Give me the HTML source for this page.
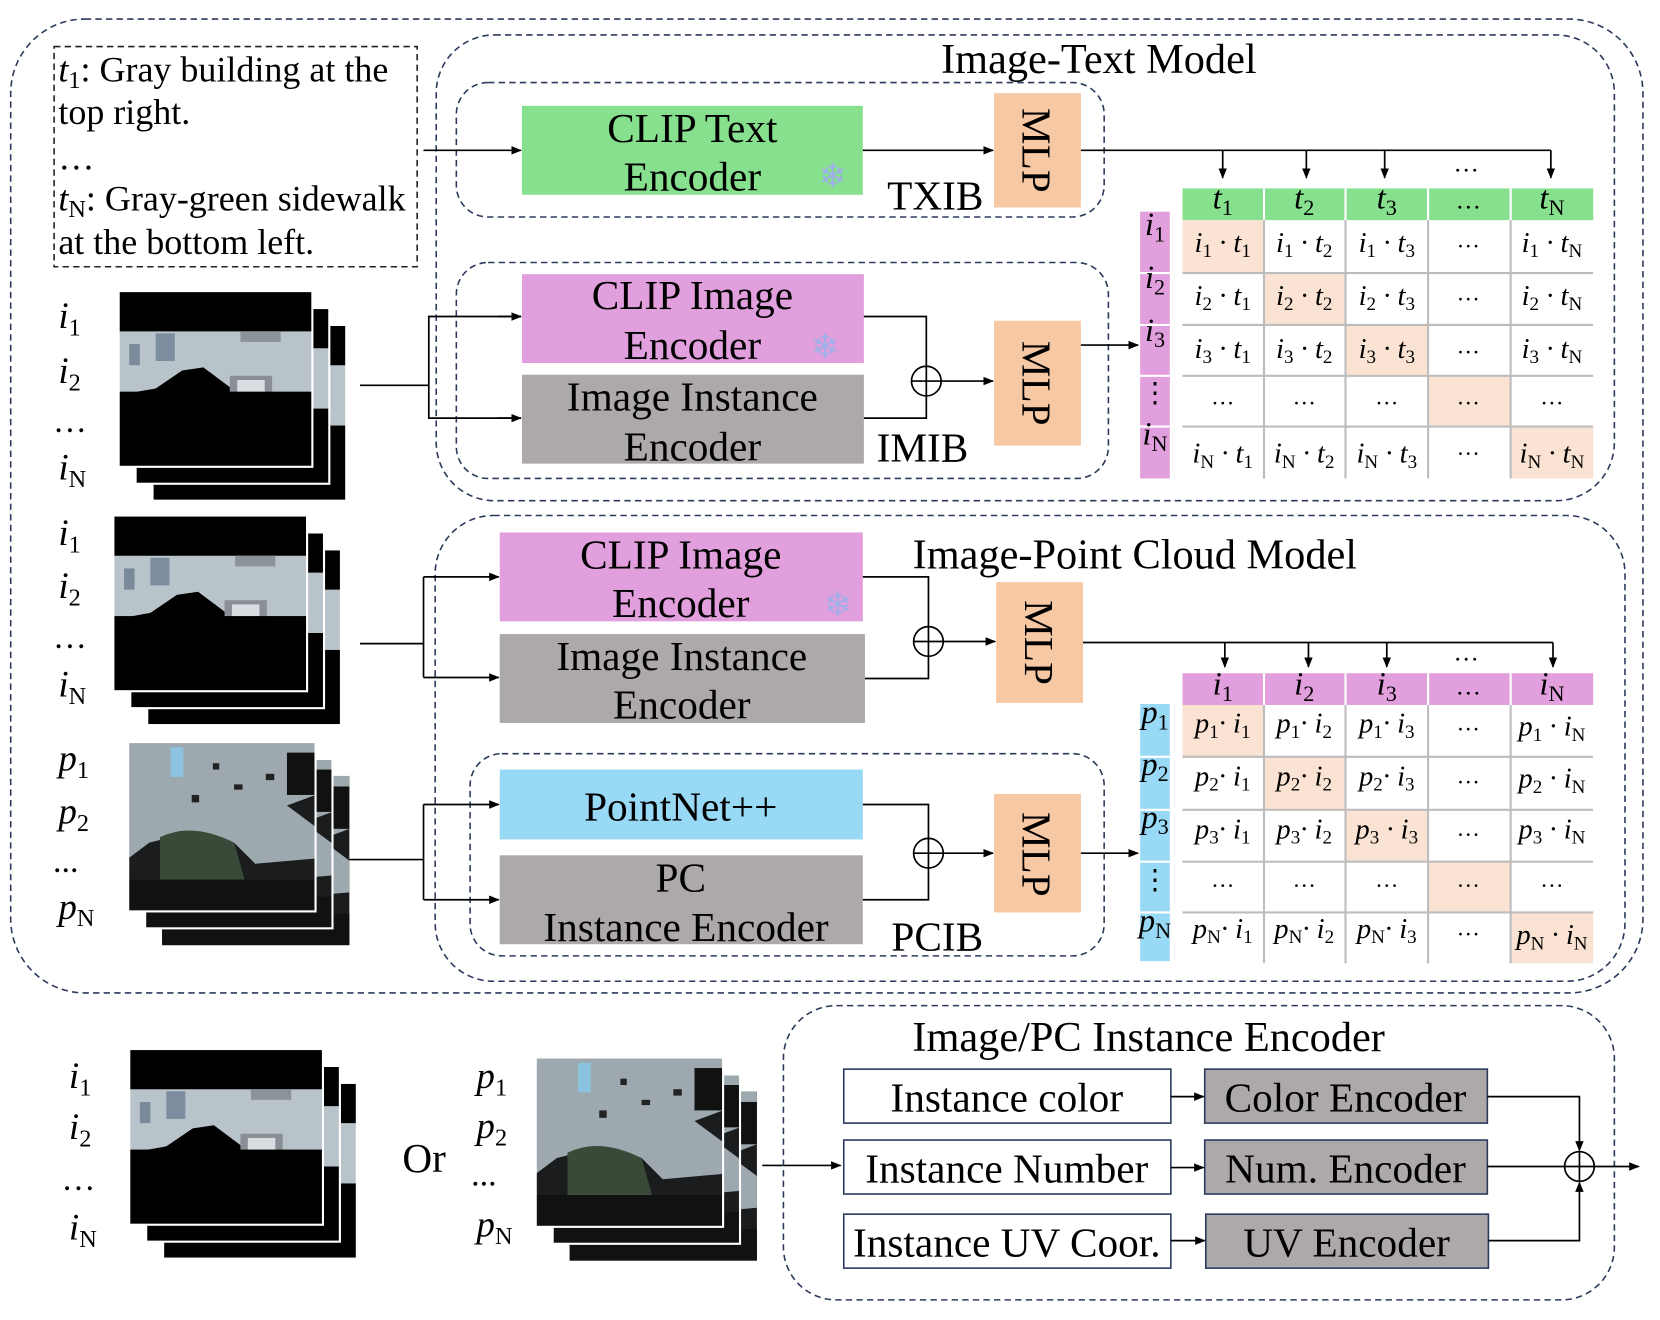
<!DOCTYPE html>
<html><head><meta charset="utf-8">
<style>
html,body{margin:0;padding:0;background:#fff;}
svg{display:block;}
text{font-family:"Liberation Serif",serif;fill:#000;}
.b{font-size:39px;text-anchor:middle;}
.m{font-size:27px;font-style:italic;text-anchor:middle;}
.h{font-size:31px;font-style:italic;text-anchor:middle;}
.lab{font-size:35px;font-style:italic;}
.s{font-size:18px;font-style:normal;}
.sh{font-size:21px;font-style:normal;}
.sl{font-size:23px;font-style:normal;}
.d{fill:none;stroke:#2b3a5c;stroke-width:1.5;stroke-dasharray:6 4;}
.ln{fill:none;stroke:#000;stroke-width:1.6;}
.g{stroke:#bdbdbd;stroke-width:2;}
</style></head><body>
<svg width="1660" height="1320" viewBox="0 0 1568 1247" xmlns="http://www.w3.org/2000/svg">
<defs>
<marker id="a" markerWidth="10" markerHeight="10" refX="9" refY="5" orient="auto" markerUnits="userSpaceOnUse"><path d="M0,1 L10,5 L0,9 z" fill="#000"/></marker>
<symbol id="ph" viewBox="0 0 183 166">
<rect width="183" height="166" fill="#000"/>
<path d="M0,38 L183,38 L183,100 L150,104 L120,102 L80,72 L60,75 L35,92 L18,95 L0,100 z" fill="#b9c3ca"/>
<rect x="105" y="80" width="40" height="25" fill="#8a8f96"/>
<rect x="112" y="84" width="26" height="18" fill="#d8dde2"/>
<rect x="35" y="40" width="18" height="26" fill="#7b8d9e"/>
<rect x="10" y="50" width="10" height="20" fill="#7a8a9a"/>
<rect x="115" y="38" width="38" height="10" fill="#8b9299"/>
<rect x="0" y="95" width="183" height="71" fill="#000"/>
</symbol>
<symbol id="pc" viewBox="0 0 177 160">
<rect width="177" height="160" fill="#1a1c1e"/>
<path d="M0,0 L177,0 L177,50 L150,60 L177,80 L177,110 L120,115 L100,95 L60,85 L20,95 L0,110 z" fill="#9da9ae"/>
<path d="M30,90 Q60,75 100,95 L110,130 L30,130 z" fill="#3a4a38"/>
<rect x="40" y="5" width="12" height="28" fill="#8cc3e0"/>
<rect x="80" y="20" width="6" height="6" fill="#222"/><rect x="100" y="40" width="8" height="5" fill="#222"/><rect x="60" y="50" width="7" height="7" fill="#222"/><rect x="130" y="30" width="8" height="6" fill="#222"/><rect x="150" y="10" width="27" height="40" fill="#111"/>
<rect x="0" y="130" width="177" height="30" fill="#101212"/>
</symbol>
</defs>

<rect class="d" x="10" y="18" width="1542" height="920" rx="70"/>
<rect class="d" x="412" y="33" width="1113" height="440" rx="55"/>
<text x="1038" y="69" style="font-size:40px;text-anchor:middle">Image-Text Model</text>

<rect x="51" y="44" width="343" height="208" fill="none" stroke="#222" stroke-width="1.5" stroke-dasharray="6 4"/>
<text x="55" y="77" style="font-size:34px"><tspan font-style="italic">t</tspan><tspan class="sl" dy="6">1</tspan><tspan dy="-6">: Gray building at the</tspan></text>
<text x="55" y="117" style="font-size:34px">top right.</text>
<text x="55" y="160" style="font-size:34px">…</text>
<text x="55" y="199" style="font-size:34px"><tspan font-style="italic">t</tspan><tspan class="sl" dy="6" font-style="italic">N</tspan><tspan dy="-6">: Gray-green sidewalk</tspan></text>
<text x="55" y="240" style="font-size:34px">at the bottom left.</text>

<rect class="d" x="431" y="78" width="612" height="127" rx="30"/>
<rect x="493" y="100" width="322" height="84" fill="#86e08e"/>
<text class="b" x="654" y="134">CLIP Text</text><text class="b" x="654" y="180">Encoder</text>
<text x="773" y="177" style="font-size:32px;fill:#9fb0e8">❄</text>
<rect x="939" y="88" width="82" height="108" fill="#f7c8a4"/>
<text class="b" transform="translate(966,142) rotate(90)" y="0">MLP</text>
<text x="838" y="198" style="font-size:39px">TXIB</text>
<line class="ln" x1="400" y1="142" x2="492" y2="142" marker-end="url(#a)"/>
<line class="ln" x1="815" y1="142" x2="938" y2="142" marker-end="url(#a)"/>
<polyline class="ln" points="1021,142 1465,142"/>
<line class="ln" x1="1155" y1="142" x2="1155" y2="168" marker-end="url(#a)"/>
<line class="ln" x1="1234" y1="142" x2="1234" y2="168" marker-end="url(#a)"/>
<line class="ln" x1="1308" y1="142" x2="1308" y2="168" marker-end="url(#a)"/>
<line class="ln" x1="1465" y1="142" x2="1465" y2="168" marker-end="url(#a)"/>
<text x="1385" y="162" style="font-size:24px;text-anchor:middle">…</text>

<rect class="d" x="431" y="248" width="616" height="204" rx="30"/>
<rect x="493" y="259" width="323" height="84" fill="#e29fdd"/>
<text class="b" x="654" y="292">CLIP Image</text><text class="b" x="654" y="339">Encoder</text>
<text x="766" y="338" style="font-size:32px;fill:#9fb0e8">❄</text>
<rect x="493" y="354" width="323" height="84" fill="#ada9a9"/>
<text class="b" x="654" y="388">Image Instance</text><text class="b" x="654" y="435">Encoder</text>
<text x="828" y="436" style="font-size:39px">IMIB</text>
<circle cx="875" cy="360" r="14" fill="none" stroke="#000" stroke-width="1.6"/>
<line class="ln" x1="861" y1="360" x2="889" y2="360"/><line class="ln" x1="875" y1="346" x2="875" y2="374"/>
<polyline class="ln" points="816,299 875,299 875,346"/>
<polyline class="ln" points="816,395 875,395 875,374"/>
<line class="ln" x1="889" y1="360" x2="938" y2="360" marker-end="url(#a)"/>
<rect x="939" y="303" width="82" height="118" fill="#f7c8a4"/>
<text class="b" transform="translate(966,362) rotate(90)">MLP</text>
<line class="ln" x1="1021" y1="326" x2="1075" y2="326" marker-end="url(#a)"/>
<polyline class="ln" points="340,364 405,364"/>
<polyline class="ln" points="492,299 405,299 405,395 492,395"/>
<line class="ln" x1="470" y1="299" x2="492" y2="299" marker-end="url(#a)"/>
<line class="ln" x1="470" y1="395" x2="492" y2="395" marker-end="url(#a)"/>

<use href="#ph" x="144" y="307" width="183" height="166"/><rect x="144" y="307" width="183" height="166" fill="none" stroke="#fff" stroke-width="2"/>
<use href="#ph" x="128" y="291" width="183" height="166"/><rect x="128" y="291" width="183" height="166" fill="none" stroke="#fff" stroke-width="2"/>
<use href="#ph" x="112" y="275" width="183" height="166"/><rect x="112" y="275" width="183" height="166" fill="none" stroke="#fff" stroke-width="2"/>
<text class="lab" x="55" y="310">i<tspan class="sl" dy="7">1</tspan></text>
<text class="lab" x="55" y="362">i<tspan class="sl" dy="7">2</tspan></text>
<text x="50" y="408" style="font-size:32px">…</text>
<text class="lab" x="55" y="453">i<tspan class="sl" dy="7" font-style="italic">N</tspan></text>

<rect x="1117" y="178" width="388" height="30" fill="#86e08e"/>
<rect x="1077" y="200" width="28" height="252" fill="#e29fdd"/>
<rect x="1117" y="208" width="77" height="50" fill="#fbe3d3"/>
<rect x="1194" y="258" width="77" height="49" fill="#fbe3d3"/>
<rect x="1271" y="307" width="78" height="48" fill="#fbe3d3"/>
<rect x="1349" y="355" width="78" height="48" fill="#fbe3d3"/>
<rect x="1427" y="403" width="78" height="49" fill="#fbe3d3"/>
<g class="g"><line x1="1194" y1="178" x2="1194" y2="452"/><line x1="1271" y1="178" x2="1271" y2="452"/><line x1="1349" y1="178" x2="1349" y2="452"/><line x1="1427" y1="178" x2="1427" y2="452"/>
<line x1="1117" y1="258" x2="1505" y2="258"/><line x1="1117" y1="307" x2="1505" y2="307"/><line x1="1117" y1="355" x2="1505" y2="355"/><line x1="1117" y1="403" x2="1505" y2="403"/>
<line x1="1077" y1="258" x2="1105" y2="258" stroke="#fff"/><line x1="1077" y1="307" x2="1105" y2="307" stroke="#fff"/><line x1="1077" y1="355" x2="1105" y2="355" stroke="#fff"/><line x1="1077" y1="403" x2="1105" y2="403" stroke="#fff"/></g>
<g stroke="#fff" stroke-width="2"><line x1="1194" y1="178" x2="1194" y2="208"/><line x1="1271" y1="178" x2="1271" y2="208"/><line x1="1349" y1="178" x2="1349" y2="208"/><line x1="1427" y1="178" x2="1427" y2="208"/></g>
<text class="h" x="1155" y="197">t<tspan class="sh" dy="6">1</tspan></text>
<text class="h" x="1232" y="197">t<tspan class="sh" dy="6">2</tspan></text>
<text class="h" x="1310" y="197">t<tspan class="sh" dy="6">3</tspan></text>
<text x="1387" y="197" style="font-size:24px;text-anchor:middle">…</text>
<text class="h" x="1466" y="197">t<tspan class="sh" dy="6" font-style="italic">N</tspan></text>
<text class="h" x="1091" y="222">i<tspan class="sh" dy="6">1</tspan></text>
<text class="h" x="1091" y="272">i<tspan class="sh" dy="6">2</tspan></text>
<text class="h" x="1091" y="322">i<tspan class="sh" dy="6">3</tspan></text>
<text x="1091" y="380" style="font-size:26px;text-anchor:middle">⋮</text>
<text class="h" x="1091" y="420">i<tspan class="sh" dy="6" font-style="italic">N</tspan></text>

<text class="m" x="1155" y="238">i<tspan class="s" dy="5">1</tspan><tspan dy="-5"> · t</tspan><tspan class="s" dy="5">1</tspan></text>
<text class="m" x="1232" y="238">i<tspan class="s" dy="5">1</tspan><tspan dy="-5"> · t</tspan><tspan class="s" dy="5">2</tspan></text>
<text class="m" x="1310" y="238">i<tspan class="s" dy="5">1</tspan><tspan dy="-5"> · t</tspan><tspan class="s" dy="5">3</tspan></text>
<text x="1387" y="234" style="font-size:22px;text-anchor:middle">…</text>
<text class="m" x="1466" y="238">i<tspan class="s" dy="5">1</tspan><tspan dy="-5"> · t</tspan><tspan class="s" dy="5" font-style="italic">N</tspan></text>

<text class="m" x="1155" y="288">i<tspan class="s" dy="5">2</tspan><tspan dy="-5"> · t</tspan><tspan class="s" dy="5">1</tspan></text>
<text class="m" x="1232" y="288">i<tspan class="s" dy="5">2</tspan><tspan dy="-5"> · t</tspan><tspan class="s" dy="5">2</tspan></text>
<text class="m" x="1310" y="288">i<tspan class="s" dy="5">2</tspan><tspan dy="-5"> · t</tspan><tspan class="s" dy="5">3</tspan></text>
<text x="1387" y="284" style="font-size:22px;text-anchor:middle">…</text>
<text class="m" x="1466" y="288">i<tspan class="s" dy="5">2</tspan><tspan dy="-5"> · t</tspan><tspan class="s" dy="5" font-style="italic">N</tspan></text>

<text class="m" x="1155" y="338">i<tspan class="s" dy="5">3</tspan><tspan dy="-5"> · t</tspan><tspan class="s" dy="5">1</tspan></text>
<text class="m" x="1232" y="338">i<tspan class="s" dy="5">3</tspan><tspan dy="-5"> · t</tspan><tspan class="s" dy="5">2</tspan></text>
<text class="m" x="1310" y="338">i<tspan class="s" dy="5">3</tspan><tspan dy="-5"> · t</tspan><tspan class="s" dy="5">3</tspan></text>
<text x="1387" y="334" style="font-size:22px;text-anchor:middle">…</text>
<text class="m" x="1466" y="338">i<tspan class="s" dy="5">3</tspan><tspan dy="-5"> · t</tspan><tspan class="s" dy="5" font-style="italic">N</tspan></text>

<text x="1155" y="382" style="font-size:22px;text-anchor:middle">…</text>
<text x="1232" y="382" style="font-size:22px;text-anchor:middle">…</text>
<text x="1310" y="382" style="font-size:22px;text-anchor:middle">…</text>
<text x="1387" y="382" style="font-size:22px;text-anchor:middle">…</text>
<text x="1466" y="382" style="font-size:22px;text-anchor:middle">…</text>

<text class="m" x="1155" y="437">i<tspan class="s" dy="5" font-style="italic">N</tspan><tspan dy="-5"> · t</tspan><tspan class="s" dy="5">1</tspan></text>
<text class="m" x="1232" y="437">i<tspan class="s" dy="5" font-style="italic">N</tspan><tspan dy="-5"> · t</tspan><tspan class="s" dy="5">2</tspan></text>
<text class="m" x="1310" y="437">i<tspan class="s" dy="5" font-style="italic">N</tspan><tspan dy="-5"> · t</tspan><tspan class="s" dy="5">3</tspan></text>
<text x="1387" y="430" style="font-size:22px;text-anchor:middle">…</text>
<text class="m" x="1466" y="437">i<tspan class="s" dy="5" font-style="italic">N</tspan><tspan dy="-5"> · t</tspan><tspan class="s" dy="5" font-style="italic">N</tspan></text>

<rect class="d" x="411" y="487" width="1124" height="440" rx="55"/>
<text x="1072" y="537" style="font-size:40px;text-anchor:middle">Image-Point Cloud Model</text>
<rect x="472" y="503" width="343" height="84" fill="#e29fdd"/>
<text class="b" x="643" y="537">CLIP Image</text><text class="b" x="643" y="583">Encoder</text>
<text x="778" y="582" style="font-size:32px;fill:#9fb0e8">❄</text>
<rect x="472" y="599" width="345" height="84" fill="#ada9a9"/>
<text class="b" x="644" y="633">Image Instance</text><text class="b" x="644" y="679">Encoder</text>
<circle cx="877" cy="606" r="14" fill="none" stroke="#000" stroke-width="1.6"/>
<line class="ln" x1="863" y1="606" x2="891" y2="606"/><line class="ln" x1="877" y1="592" x2="877" y2="620"/>
<polyline class="ln" points="815,545 877,545 877,592"/>
<polyline class="ln" points="817,641 877,641 877,620"/>
<line class="ln" x1="891" y1="606" x2="940" y2="606" marker-end="url(#a)"/>
<rect x="941" y="550" width="82" height="114" fill="#f7c8a4"/>
<text class="b" transform="translate(968,607) rotate(90)">MLP</text>
<polyline class="ln" points="1023,607 1467,607"/>
<line class="ln" x1="1157" y1="607" x2="1157" y2="630" marker-end="url(#a)"/>
<line class="ln" x1="1236" y1="607" x2="1236" y2="630" marker-end="url(#a)"/>
<line class="ln" x1="1310" y1="607" x2="1310" y2="630" marker-end="url(#a)"/>
<line class="ln" x1="1467" y1="607" x2="1467" y2="630" marker-end="url(#a)"/>
<text x="1385" y="624" style="font-size:24px;text-anchor:middle">…</text>
<polyline class="ln" points="340,608 400,608"/>
<polyline class="ln" points="400,545 400,640"/>
<line class="ln" x1="400" y1="545" x2="471" y2="545" marker-end="url(#a)"/>
<line class="ln" x1="400" y1="640" x2="471" y2="640" marker-end="url(#a)"/>

<use href="#ph" x="139" y="519" width="183" height="166"/><rect x="139" y="519" width="183" height="166" fill="none" stroke="#fff" stroke-width="2"/>
<use href="#ph" x="123" y="503" width="183" height="166"/><rect x="123" y="503" width="183" height="166" fill="none" stroke="#fff" stroke-width="2"/>
<use href="#ph" x="107" y="487" width="183" height="166"/><rect x="107" y="487" width="183" height="166" fill="none" stroke="#fff" stroke-width="2"/>
<text class="lab" x="55" y="515">i<tspan class="sl" dy="7">1</tspan></text>
<text class="lab" x="55" y="565">i<tspan class="sl" dy="7">2</tspan></text>
<text x="50" y="612" style="font-size:32px">…</text>
<text class="lab" x="55" y="658">i<tspan class="sl" dy="7" font-style="italic">N</tspan></text>

<rect class="d" x="444" y="712" width="599" height="191" rx="30"/>
<rect x="472" y="727" width="343" height="66" fill="#98d9f5"/>
<text class="b" x="643" y="775">PointNet++</text>
<rect x="472" y="808" width="343" height="84" fill="#ada9a9"/>
<text class="b" x="643" y="842">PC</text><text class="b" x="648" y="889">Instance Encoder</text>
<text x="842" y="898" style="font-size:39px">PCIB</text>
<circle cx="877" cy="806" r="14" fill="none" stroke="#000" stroke-width="1.6"/>
<line class="ln" x1="863" y1="806" x2="891" y2="806"/><line class="ln" x1="877" y1="792" x2="877" y2="820"/>
<polyline class="ln" points="815,760 877,760 877,792"/>
<polyline class="ln" points="815,850 877,850 877,820"/>
<line class="ln" x1="891" y1="806" x2="938" y2="806" marker-end="url(#a)"/>
<rect x="939" y="750" width="82" height="112" fill="#f7c8a4"/>
<text class="b" transform="translate(966,807) rotate(90)">MLP</text>
<line class="ln" x1="1021" y1="806" x2="1075" y2="806" marker-end="url(#a)"/>
<polyline class="ln" points="330,812 400,812"/>
<polyline class="ln" points="400,760 400,850"/>
<line class="ln" x1="400" y1="760" x2="471" y2="760" marker-end="url(#a)"/>
<line class="ln" x1="400" y1="850" x2="471" y2="850" marker-end="url(#a)"/>

<use href="#pc" x="153" y="733" width="177" height="160"/>
<use href="#pc" x="137" y="717" width="177" height="160"/><rect x="137" y="717" width="177" height="160" fill="none" stroke="#fff" stroke-width="2"/>
<use href="#pc" x="121" y="701" width="177" height="160"/><rect x="121" y="701" width="177" height="160" fill="none" stroke="#fff" stroke-width="2"/>
<text class="lab" x="55" y="728">p<tspan class="sl" dy="7">1</tspan></text>
<text class="lab" x="55" y="778">p<tspan class="sl" dy="7">2</tspan></text>
<text x="50" y="824" style="font-size:32px">...</text>
<text class="lab" x="55" y="868">p<tspan class="sl" dy="7" font-style="italic">N</tspan></text>

<rect x="1117" y="636" width="388" height="30" fill="#e29fdd"/>
<rect x="1077" y="665" width="28" height="243" fill="#98d9f5"/>
<rect x="1117" y="666" width="77" height="49" fill="#fbe3d3"/>
<rect x="1194" y="715" width="77" height="50" fill="#fbe3d3"/>
<rect x="1271" y="765" width="78" height="49" fill="#fbe3d3"/>
<rect x="1349" y="814" width="78" height="48" fill="#fbe3d3"/>
<rect x="1427" y="862" width="78" height="48" fill="#fbe3d3"/>
<g class="g"><line x1="1194" y1="636" x2="1194" y2="910"/><line x1="1271" y1="636" x2="1271" y2="910"/><line x1="1349" y1="636" x2="1349" y2="910"/><line x1="1427" y1="636" x2="1427" y2="910"/>
<line x1="1117" y1="715" x2="1505" y2="715"/><line x1="1117" y1="765" x2="1505" y2="765"/><line x1="1117" y1="814" x2="1505" y2="814"/><line x1="1117" y1="862" x2="1505" y2="862"/>
<line x1="1077" y1="715" x2="1105" y2="715" stroke="#fff"/><line x1="1077" y1="765" x2="1105" y2="765" stroke="#fff"/><line x1="1077" y1="814" x2="1105" y2="814" stroke="#fff"/><line x1="1077" y1="862" x2="1105" y2="862" stroke="#fff"/></g>
<g stroke="#fff" stroke-width="2"><line x1="1194" y1="636" x2="1194" y2="666"/><line x1="1271" y1="636" x2="1271" y2="666"/><line x1="1349" y1="636" x2="1349" y2="666"/><line x1="1427" y1="636" x2="1427" y2="666"/></g>
<text class="h" x="1155" y="656">i<tspan class="sh" dy="6">1</tspan></text>
<text class="h" x="1232" y="656">i<tspan class="sh" dy="6">2</tspan></text>
<text class="h" x="1310" y="656">i<tspan class="sh" dy="6">3</tspan></text>
<text x="1387" y="656" style="font-size:24px;text-anchor:middle">…</text>
<text class="h" x="1466" y="656">i<tspan class="sh" dy="6" font-style="italic">N</tspan></text>
<text class="h" x="1091" y="683">p<tspan class="sh" dy="6">1</tspan></text>
<text class="h" x="1091" y="732">p<tspan class="sh" dy="6">2</tspan></text>
<text class="h" x="1091" y="782">p<tspan class="sh" dy="6">3</tspan></text>
<text x="1091" y="840" style="font-size:26px;text-anchor:middle">⋮</text>
<text class="h" x="1091" y="880">p<tspan class="sh" dy="6" font-style="italic">N</tspan></text>

<text class="m" x="1155" y="692">p<tspan class="s" dy="5">1</tspan><tspan dy="-5">· i</tspan><tspan class="s" dy="5">1</tspan></text>
<text class="m" x="1232" y="692">p<tspan class="s" dy="5">1</tspan><tspan dy="-5">· i</tspan><tspan class="s" dy="5">2</tspan></text>
<text class="m" x="1310" y="692">p<tspan class="s" dy="5">1</tspan><tspan dy="-5">· i</tspan><tspan class="s" dy="5">3</tspan></text>
<text x="1387" y="690" style="font-size:22px;text-anchor:middle">…</text>
<text class="m" x="1466" y="695">p<tspan class="s" dy="5">1</tspan><tspan dy="-5"> · i</tspan><tspan class="s" dy="5" font-style="italic">N</tspan></text>

<text class="m" x="1155" y="742">p<tspan class="s" dy="5">2</tspan><tspan dy="-5">· i</tspan><tspan class="s" dy="5">1</tspan></text>
<text class="m" x="1232" y="742">p<tspan class="s" dy="5">2</tspan><tspan dy="-5">· i</tspan><tspan class="s" dy="5">2</tspan></text>
<text class="m" x="1310" y="742">p<tspan class="s" dy="5">2</tspan><tspan dy="-5">· i</tspan><tspan class="s" dy="5">3</tspan></text>
<text x="1387" y="740" style="font-size:22px;text-anchor:middle">…</text>
<text class="m" x="1466" y="744">p<tspan class="s" dy="5">2</tspan><tspan dy="-5"> · i</tspan><tspan class="s" dy="5" font-style="italic">N</tspan></text>

<text class="m" x="1155" y="792">p<tspan class="s" dy="5">3</tspan><tspan dy="-5">· i</tspan><tspan class="s" dy="5">1</tspan></text>
<text class="m" x="1232" y="792">p<tspan class="s" dy="5">3</tspan><tspan dy="-5">· i</tspan><tspan class="s" dy="5">2</tspan></text>
<text class="m" x="1310" y="792">p<tspan class="s" dy="5">3</tspan><tspan dy="-5"> · i</tspan><tspan class="s" dy="5">3</tspan></text>
<text x="1387" y="790" style="font-size:22px;text-anchor:middle">…</text>
<text class="m" x="1466" y="792">p<tspan class="s" dy="5">3</tspan><tspan dy="-5"> · i</tspan><tspan class="s" dy="5" font-style="italic">N</tspan></text>

<text x="1155" y="838" style="font-size:22px;text-anchor:middle">…</text>
<text x="1232" y="838" style="font-size:22px;text-anchor:middle">…</text>
<text x="1310" y="838" style="font-size:22px;text-anchor:middle">…</text>
<text x="1387" y="838" style="font-size:22px;text-anchor:middle">…</text>
<text x="1466" y="838" style="font-size:22px;text-anchor:middle">…</text>

<text class="m" x="1155" y="886">p<tspan class="s" dy="5" font-style="italic">N</tspan><tspan dy="-5">· i</tspan><tspan class="s" dy="5">1</tspan></text>
<text class="m" x="1232" y="886">p<tspan class="s" dy="5" font-style="italic">N</tspan><tspan dy="-5">· i</tspan><tspan class="s" dy="5">2</tspan></text>
<text class="m" x="1310" y="886">p<tspan class="s" dy="5" font-style="italic">N</tspan><tspan dy="-5">· i</tspan><tspan class="s" dy="5">3</tspan></text>
<text x="1387" y="884" style="font-size:22px;text-anchor:middle">…</text>
<text class="m" x="1466" y="892">p<tspan class="s" dy="5" font-style="italic">N</tspan><tspan dy="-5"> · i</tspan><tspan class="s" dy="5" font-style="italic">N</tspan></text>

<use href="#ph" x="154" y="1023" width="183" height="166"/><rect x="154" y="1023" width="183" height="166" fill="none" stroke="#fff" stroke-width="2"/>
<use href="#ph" x="138" y="1007" width="183" height="166"/><rect x="138" y="1007" width="183" height="166" fill="none" stroke="#fff" stroke-width="2"/>
<use href="#ph" x="122" y="991" width="183" height="166"/><rect x="122" y="991" width="183" height="166" fill="none" stroke="#fff" stroke-width="2"/>
<text class="lab" x="65" y="1028">i<tspan class="sl" dy="7">1</tspan></text>
<text class="lab" x="65" y="1076">i<tspan class="sl" dy="7">2</tspan></text>
<text x="58" y="1124" style="font-size:32px">…</text>
<text class="lab" x="65" y="1171">i<tspan class="sl" dy="7" font-style="italic">N</tspan></text>
<text x="380" y="1107" style="font-size:39px">Or</text>

<use href="#pc" x="538" y="1031" width="177" height="160"/>
<use href="#pc" x="522" y="1015" width="177" height="160"/><rect x="522" y="1015" width="177" height="160" fill="none" stroke="#fff" stroke-width="2"/>
<use href="#pc" x="506" y="999" width="177" height="160"/><rect x="506" y="999" width="177" height="160" fill="none" stroke="#fff" stroke-width="2"/>
<text class="lab" x="450" y="1028">p<tspan class="sl" dy="7">1</tspan></text>
<text class="lab" x="450" y="1075">p<tspan class="sl" dy="7">2</tspan></text>
<text x="445" y="1120" style="font-size:32px">...</text>
<text class="lab" x="450" y="1168">p<tspan class="sl" dy="7" font-style="italic">N</tspan></text>
<line class="ln" x1="720" y1="1101" x2="794" y2="1101" marker-end="url(#a)"/>

<rect class="d" x="740" y="950" width="785" height="278" rx="50"/>
<text x="1085" y="993" style="font-size:40px;text-anchor:middle">Image/PC Instance Encoder</text>
<g stroke="#2b3a5c" stroke-width="1.5">
<rect x="797" y="1010" width="309" height="51" fill="#fff"/>
<rect x="797" y="1077" width="309" height="51" fill="#fff"/>
<rect x="797" y="1147" width="309" height="51" fill="#fff"/>
<rect x="1138" y="1010" width="267" height="51" fill="#ada9a9"/>
<rect x="1138" y="1077" width="267" height="51" fill="#ada9a9"/>
<rect x="1139" y="1147" width="267" height="51" fill="#ada9a9"/>
</g>
<text class="b" x="951" y="1050">Instance color</text>
<text class="b" x="951" y="1117">Instance Number</text>
<text class="b" x="951" y="1187">Instance UV Coor.</text>
<text class="b" x="1271" y="1050">Color Encoder</text>
<text class="b" x="1271" y="1117">Num. Encoder</text>
<text class="b" x="1272" y="1187">UV Encoder</text>
<line class="ln" x1="1106" y1="1036" x2="1137" y2="1036" marker-end="url(#a)"/>
<line class="ln" x1="1106" y1="1103" x2="1137" y2="1103" marker-end="url(#a)"/>
<line class="ln" x1="1106" y1="1172" x2="1138" y2="1172" marker-end="url(#a)"/>
<circle cx="1492" cy="1102" r="14" fill="none" stroke="#000" stroke-width="1.6"/>
<line class="ln" x1="1478" y1="1102" x2="1506" y2="1102"/><line class="ln" x1="1492" y1="1088" x2="1492" y2="1116"/>
<polyline class="ln" points="1405,1036 1492,1036 1492,1087" marker-end="url(#a)"/>
<line class="ln" x1="1405" y1="1102" x2="1478" y2="1102"/>
<polyline class="ln" points="1406,1172 1492,1172 1492,1117" marker-end="url(#a)"/>
<line class="ln" x1="1506" y1="1102" x2="1548" y2="1102" marker-end="url(#a)"/>
</svg>
</body></html>
